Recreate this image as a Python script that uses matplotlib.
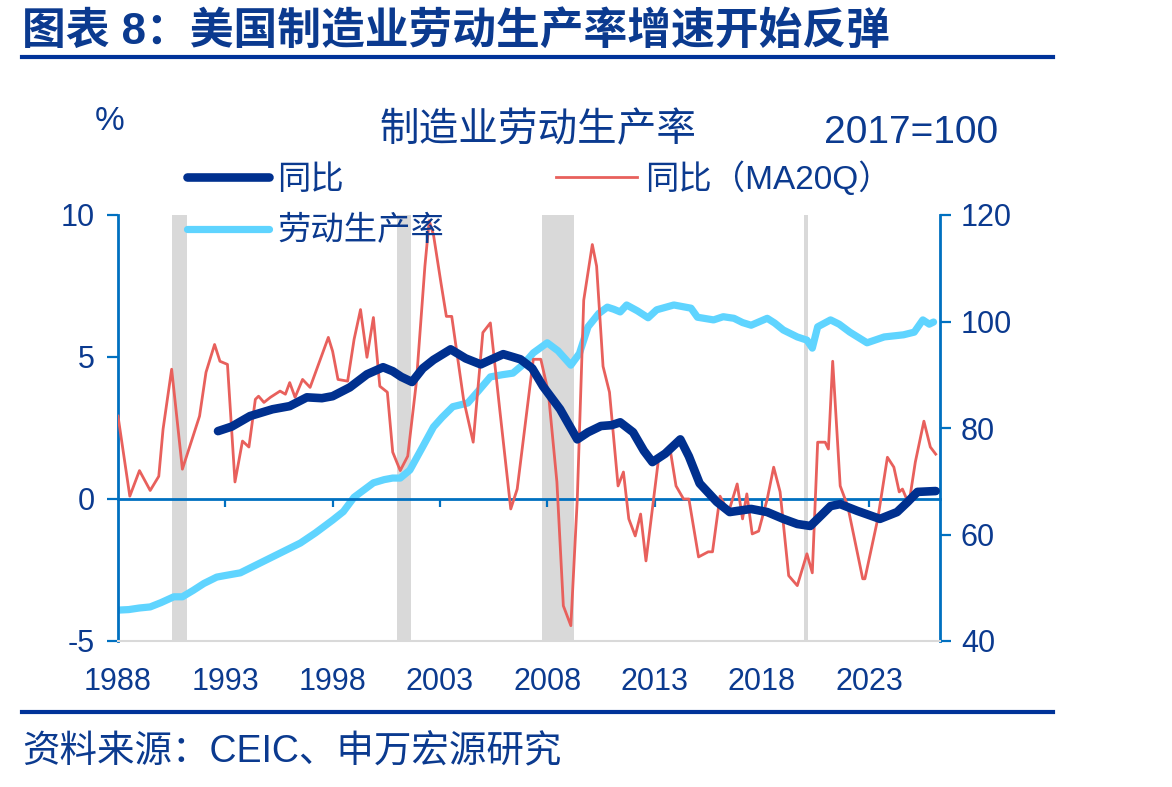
import matplotlib
matplotlib.use("Agg")
import matplotlib.pyplot as plt
from matplotlib.lines import Line2D

plt.rcParams['font.family'] = ['Liberation Sans', 'Noto Sans CJK SC', 'DejaVu Sans']
plt.rcParams['axes.unicode_minus'] = False

# ---------------- data ----------------
yoy_years = [1992.66, 1993.3, 1994.15, 1995.2, 1996.0, 1996.8, 1997.5, 1998.0, 1998.8, 1999.6,
             2000.35, 2000.8, 2001.2, 2001.7, 2002.2, 2002.7, 2003.5, 2004.2, 2004.9, 2005.5,
             2005.95, 2006.4, 2006.75, 2007.3, 2007.8, 2008.6, 2009.4, 2009.9, 2010.5, 2011.0,
             2011.4, 2012.0, 2012.5, 2012.9, 2013.5, 2014.2, 2014.6, 2015.1, 2015.9, 2016.5,
             2017.5, 2018.25, 2019.0, 2019.65, 2020.26, 2020.8, 2021.2, 2021.65, 2022.45, 2023.5,
             2024.3, 2024.8, 2025.25, 2026.1]
yoy_vals = [2.39, 2.55, 2.92, 3.16, 3.27, 3.58, 3.55, 3.62, 3.93, 4.39,
            4.64, 4.5, 4.3, 4.12, 4.6, 4.9, 5.27, 4.95, 4.74, 4.95,
            5.1, 5.0, 4.92, 4.6, 3.97, 3.16, 2.1, 2.35, 2.57, 2.6,
            2.7, 2.35, 1.7, 1.3, 1.6, 2.1, 1.5, 0.55, -0.1, -0.46,
            -0.35, -0.46, -0.7, -0.88, -0.95, -0.55, -0.25, -0.18, -0.42, -0.7,
            -0.46, -0.1, 0.25, 0.28]

ma_years = [1988.0, 1988.55, 1989.0, 1989.5, 1989.9, 1990.1, 1990.5, 1991.0, 1991.8, 1992.1,
            1992.5, 1992.75, 1993.1, 1993.45, 1993.8, 1994.1, 1994.4, 1994.55, 1994.8, 1995.1,
            1995.55, 1995.8, 1996.0, 1996.25, 1996.6, 1996.95, 1997.8, 1998.0, 1998.25, 1998.7,
            1999.0, 1999.3, 1999.6, 1999.9, 2000.2, 2000.55, 2000.8, 2001.15, 2001.5, 2001.9,
            2002.3, 2002.5, 2002.7, 2003.05, 2003.3, 2003.55, 2004.1, 2004.55, 2005.0, 2005.35,
            2005.8, 2006.3, 2006.6, 2007.35, 2007.7, 2008.05, 2008.45, 2008.75, 2009.1, 2009.4,
            2009.7, 2010.1, 2010.3, 2010.6, 2010.9, 2011.3, 2011.55, 2011.8, 2012.1, 2012.35,
            2012.6, 2013.2, 2013.7, 2014.0, 2014.35, 2014.6, 2015.05, 2015.5, 2015.7, 2016.05,
            2016.45, 2016.85, 2017.1, 2017.3, 2017.55, 2017.85, 2018.25, 2018.55, 2018.85, 2019.25,
            2019.65, 2020.1, 2020.35, 2020.6, 2020.95, 2021.1, 2021.3, 2021.65, 2022.0, 2022.7,
            2022.8, 2023.4, 2023.85, 2024.15, 2024.4, 2024.55, 2024.85, 2025.15, 2025.55, 2025.85,
            2026.1]
ma_vals = [2.92, 0.1, 1.0, 0.3, 0.8, 2.46, 4.57, 1.05, 2.92, 4.46,
           5.44, 4.85, 4.74, 0.6, 2.04, 1.83, 3.51, 3.62, 3.4, 3.58,
           3.8, 3.69, 4.1, 3.58, 4.21, 3.93, 5.69, 5.2, 4.21, 4.15,
           5.62, 6.67, 4.99, 6.39, 3.97, 3.76, 1.65, 1.0, 1.51, 4.1,
           8.2, 9.8, 9.3, 7.6, 6.43, 6.43, 3.51, 2.0, 5.86, 6.2,
           3.06, -0.35, 0.35, 4.92, 4.92, 3.76, 0.6, -3.76, -4.46, 0.0,
           7.0, 8.96, 8.2, 4.67, 3.76, 0.46, 0.95, -0.7, -1.3, -0.53,
           -2.18, 1.5, 1.87, 0.46, 0.0, 0.0, -2.04, -1.86, -1.86, 0.1,
           -0.46, 0.53, -0.7, 0.18, -1.23, -1.13, 0.0, 1.12, 0.25, -2.7,
           -3.05, -1.93, -2.6, 2.0, 2.0, 1.76, 4.85, 0.46, -0.25, -2.81,
           -2.81, -0.7, 1.47, 1.12, 0.25, 0.35, -0.18, 1.3, 2.74, 1.83,
           1.58]

lp_years = [1988.0, 1988.5, 1989.0, 1989.5, 1990.0, 1990.6, 1991.0, 1991.5, 1992.0, 1992.6,
            1993.0, 1993.7, 1994.4, 1995.2, 1995.8, 1996.5, 1997.2, 1998.0, 1998.5, 1999.0,
            1999.5, 1999.9, 2000.4, 2000.8, 2001.15, 2001.6, 2002.2, 2002.7, 2003.1, 2003.6,
            2004.3, 2004.8, 2005.35, 2005.9, 2006.4, 2006.9, 2007.35, 2008.0, 2008.5, 2009.1,
            2009.5, 2009.9, 2010.4, 2010.8, 2011.1, 2011.4, 2011.7, 2012.2, 2012.7, 2013.1,
            2013.9, 2014.7, 2015.0, 2015.75, 2016.2, 2016.7, 2017.1, 2017.5, 2018.25, 2018.6,
            2019.0, 2019.65, 2020.1, 2020.35, 2020.6, 2021.2, 2021.6, 2022.1, 2022.9, 2023.7,
            2024.6, 2025.1, 2025.5, 2025.8, 2026.0]
lp_vals = [45.8, 45.9, 46.2, 46.4, 47.2, 48.3, 48.3, 49.5, 50.8, 52.0,
           52.3, 52.8, 54.2, 55.8, 57.0, 58.4, 60.3, 62.7, 64.3, 67.0,
           68.5, 69.7, 70.3, 70.6, 70.6, 72.1, 76.5, 80.2, 82.0, 84.0,
           84.7, 87.0, 89.6, 90.0, 90.3, 92.0, 94.1, 96.0, 94.5, 91.8,
           94.0, 99.0, 101.5, 102.7, 102.3, 101.8, 103.1, 102.0, 100.7, 102.2,
           103.1, 102.5, 100.8, 100.3, 100.9, 100.6, 99.8, 99.3, 100.6, 99.7,
           98.4, 97.1, 96.5, 95.0, 99.0, 100.3, 99.5, 98.0, 96.0, 97.1,
           97.5, 98.0, 100.3, 99.5, 99.9]

recessions = [(1990.5, 1991.2), (2001.0, 2001.65), (2007.75, 2009.25), (2019.95, 2020.15)]

xticks = [1988, 1993, 1998, 2003, 2008, 2013, 2018, 2023]
xtick_labels = ['1988', '1993', '1998', '2003', '2008', '2013', '2018', '2023']
left_ticks = [-5, 0, 5, 10]
right_ticks = [40, 60, 80, 100, 120]

labels = ['同比', '同比（MA20Q）', '劳动生产率']

# ---------------- style ----------------
TXT = '#0B3A8F'
AXC = '#0070C0'
C_YOY = '#00308F'
C_MA = '#E8605C'
C_LP = '#5FD4FF'
GRAY = '#D9D9D9'

W, H = 1172, 787
fig = plt.figure(figsize=(W / 100, H / 100), dpi=100)

ax = fig.add_axes([118 / W, 1 - 641 / H, (940 - 118) / W, (641 - 215) / H])
ax2 = ax.twinx()
ax.set_zorder(ax2.get_zorder() + 1)
ax.patch.set_visible(False)

for a, b in recessions:
    ax2.axvspan(a, b, color=GRAY, lw=0, zorder=0)

l_lp, = ax2.plot(lp_years, lp_vals, color=C_LP, lw=5.2, solid_capstyle='round', zorder=2)
l_ma, = ax.plot(ma_years, ma_vals, color=C_MA, lw=2.0, zorder=3)
l_yoy, = ax.plot(yoy_years, yoy_vals, color=C_YOY, lw=6.2, solid_capstyle='round', zorder=4)

ax.set_xlim(1988, 2026.3)
ax.set_ylim(-5, 10)
ax2.set_ylim(40, 120)

ax.set_xticks(xticks)
ax.set_xticklabels(xtick_labels)
ax.tick_params(axis='x', length=0, pad=19, labelsize=22, labelcolor=TXT)
ax.set_yticks(left_ticks)
ax.tick_params(axis='y', direction='out', length=8, width=1.6, color=AXC, pad=9,
               labelsize=22, labelcolor=TXT)
ax2.set_yticks(right_ticks)
ax2.tick_params(axis='y', direction='out', length=8, width=1.6, color=AXC, pad=7,
                labelsize=22, labelcolor=TXT)

for a in (ax, ax2):
    a.spines['top'].set_visible(False)
ax.spines['right'].set_visible(False)
ax2.spines['left'].set_visible(False)
ax2.spines['bottom'].set_visible(False)
ax.spines['left'].set_color(AXC)
ax.spines['left'].set_linewidth(2.0)
ax2.spines['right'].set_color(AXC)
ax2.spines['right'].set_linewidth(2.0)
ax.spines['bottom'].set_color(GRAY)
ax.spines['bottom'].set_linewidth(1.5)

# zero line with ticks
sec = ax.secondary_xaxis(1 / 3)
sec.set_xticks(xticks[1:])
sec.set_xticklabels([])
sec.tick_params(axis='x', direction='out', length=6, width=1.6, color=AXC)
sec.spines['bottom'].set_color(AXC)
sec.spines['bottom'].set_linewidth(2.0)
sec.spines['top'].set_visible(False)

# legend
leg = ax.legend([l_yoy, l_lp, l_ma], [labels[0], labels[2], labels[1]], ncol=2,
                loc='upper left', bbox_to_anchor=(187 / W, 1 - 161 / H),
                bbox_transform=fig.transFigure, frameon=False, fontsize=24,
                handlelength=2.45, handletextpad=0.25, columnspacing=3.35,
                labelspacing=0.62, borderpad=0, borderaxespad=0)
for t in leg.get_texts():
    t.set_color(TXT)

# texts
fig.text(22 / W, 1 - 32 / H, '图表 8：美国制造业劳动生产率增速开始反弹', fontsize=31.5,
         fontweight='bold', color=TXT, ha='left', va='center')
fig.add_artist(Line2D([22 / W, 1053 / W], [1 - 57 / H] * 2, color='#003399', lw=3))
fig.add_artist(Line2D([22 / W, 1053 / W], [1 - 712 / H] * 2, color='#003399', lw=3))
fig.text(22 / W, 1 - 752 / H, '资料来源：CEIC、申万宏源研究', fontsize=27,
         color=TXT, ha='left', va='center')
fig.text(538 / W, 1 - 130 / H, '制造业劳动生产率', fontsize=28.5, color=TXT,
         ha='center', va='center')
fig.text(110 / W, 1 - 122 / H, '%', fontsize=24, color=TXT, ha='center', va='center')
fig.text(998 / W, 1 - 133 / H, '2017=100', fontsize=28, color=TXT, ha='right', va='center')

fig.savefig('out.png', dpi=100)
